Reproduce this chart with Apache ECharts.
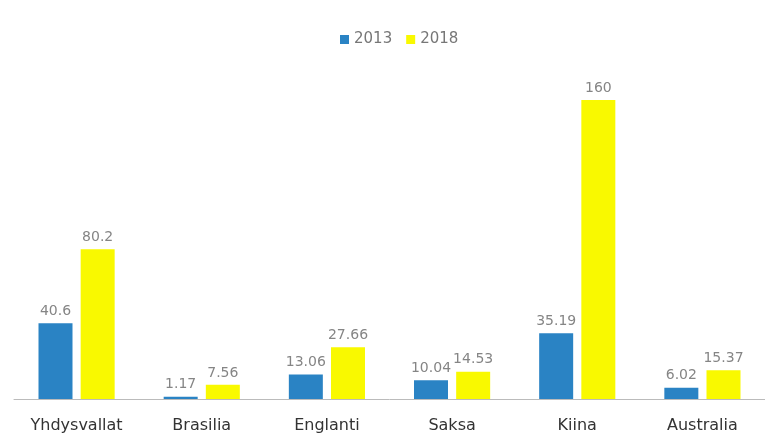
<!DOCTYPE html>
<html>
<head>
<meta charset="utf-8">
<script src="https://cdn.jsdelivr.net/npm/echarts@6/dist/echarts.min.js"></script>
<style>
  html, body { margin: 0; padding: 0; background: #fff; }
  #chart { width: 765px; height: 438px; }
</style>
</head>
<body>
<div id="chart"></div>
<script>
const categories = ['Yhdysvallat', 'Brasilia', 'Englanti', 'Saksa', 'Kiina', 'Australia'];
const values2013 = [40.6, 1.17, 13.06, 10.04, 35.19, 6.02];
const values2018 = [80.2, 7.56, 27.66, 14.53, 160, 15.37];

const chartObj = echarts.init(document.getElementById('chart'));
const labelStyle = {
  show: true,
  position: 'top',
  distance: 5,
  color: '#858585',
  fontSize: 14,
  fontFamily: 'DejaVu Sans, sans-serif'
};
chartObj.setOption({
  animation: false,
  legend: {
    left: 335,
    top: 27,
    icon: 'rect',
    itemWidth: 9,
    itemHeight: 9,
    itemGap: 14,
    textStyle: { color: '#777', fontSize: 15, fontFamily: 'DejaVu Sans, sans-serif' },
    data: ['2013', '2018']
  },
  grid: { left: 14, right: -12, top: 100, bottom: 39 },
  xAxis: {
    type: 'category',
    data: categories,
    axisTick: { show: false },
    axisLine: { lineStyle: { color: '#bbb' } },
    axisLabel: {
      interval: 0,
      hideOverlap: false,
      color: '#333',
      fontSize: 16,
      margin: 19,
      fontFamily: 'DejaVu Sans, sans-serif'
    }
  },
  yAxis: {
    type: 'value',
    min: 0,
    max: 160,
    show: false,
    splitLine: { show: false }
  },
  series: [
    {
      name: '2013',
      type: 'bar',
      barWidth: 34,
      barGap: '24%',
      itemStyle: { color: '#2a83c4' },
      label: labelStyle,
      data: values2013
    },
    {
      name: '2018',
      type: 'bar',
      barWidth: 34,
      itemStyle: { color: '#f9f900' },
      label: labelStyle,
      data: values2018
    }
  ]
});
</script>
</body>
</html>
